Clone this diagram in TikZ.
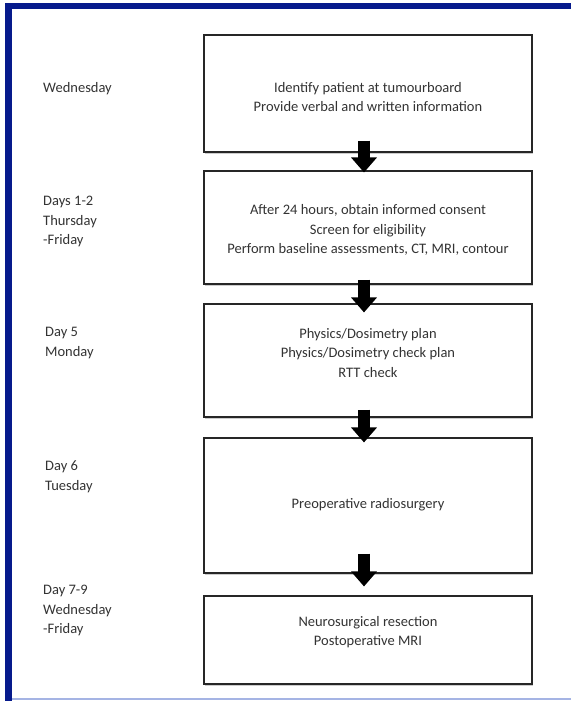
\documentclass[tikz,border=0pt]{standalone}
\usepackage{fontspec}
\setmainfont{Carlito}
\usepackage{tikz}
\usetikzlibrary{arrows.meta,shadows}
\definecolor{frameblue}{RGB}{6,26,140}
\definecolor{lineblue}{RGB}{165,180,228}

\begin{document}
\begin{tikzpicture}[
  x=1pt, y=-1pt,
  font=\fontsize{14.5}{19.5}\selectfont,
  stepbox/.style={draw=black!85, line width=1.1pt, fill=white, minimum width=328pt,
                  drop shadow={shadow xshift=1pt, shadow yshift=-1.5pt, fill=black!40, opacity=0.5}},
  txt/.style={align=center, text=black!80, inner sep=0pt},
  day/.style={align=left, anchor=north west, text=black!80, inner sep=0pt},
  blk/.style={line width=12pt, black, -{Triangle[length=15pt, width=25pt]}}
]
\useasboundingbox (0,0) rectangle (571,701);
% ----- frame -----
\fill[frameblue] (5,3) rectangle (571,9);
\fill[frameblue] (5,3) rectangle (12,701);
\draw[lineblue, line width=1.5pt] (12,699) -- (571,699);
% ----- steps (top -> bottom) -----
\node[stepbox, minimum height=117pt] (b1) at (368,93.5)  {};
\node[stepbox, minimum height=113pt] (b2) at (368,227.5) {};
\node[stepbox, minimum height=113pt] (b3) at (368,360.5) {};
\node[stepbox, minimum height=135pt] (b4) at (368,505.5) {};
\node[stepbox, minimum height=88pt]  (b5) at (368,640)   {};
\node[txt] (t1) at (368,97)  {Identify patient at tumourboard\\Provide verbal and written information};
\node[txt] (t2) at (368,230) {After 24 hours, obtain informed consent\\Screen for eligibility\\Perform baseline assessments, CT, MRI, contour};
\node[txt] (t3) at (368,353) {Physics/Dosimetry plan\\Physics/Dosimetry check plan\\RTT check};
\node[txt] (t4) at (368,505) {Preoperative radiosurgery};
\node[txt] (t5) at (368,632) {Neurosurgical resection\\Postoperative MRI};
\foreach \a/\b/\s/\e in {b1/b2/12/-2, b2/b3/5/-9, b3/b4/8/-5, b4/b5/20/9}{
  \draw[blk] ([xshift=-4pt, yshift=\s pt]\a.south) -- ([xshift=-4pt, yshift=\e pt]\b.north);}
% ----- days (left column) -----
\node[day] (d1) at (43,82)  {Wednesday};
\node[day] (d2) at (43,196) {Days 1-2\\Thursday\\-Friday};
\node[day] (d3) at (45,327) {Day 5\\Monday};
\node[day] (d4) at (45,461) {Day 6\\Tuesday};
\node[day] (d5) at (43,585) {Day 7-9\\Wednesday\\-Friday};
\end{tikzpicture}
\end{document}
